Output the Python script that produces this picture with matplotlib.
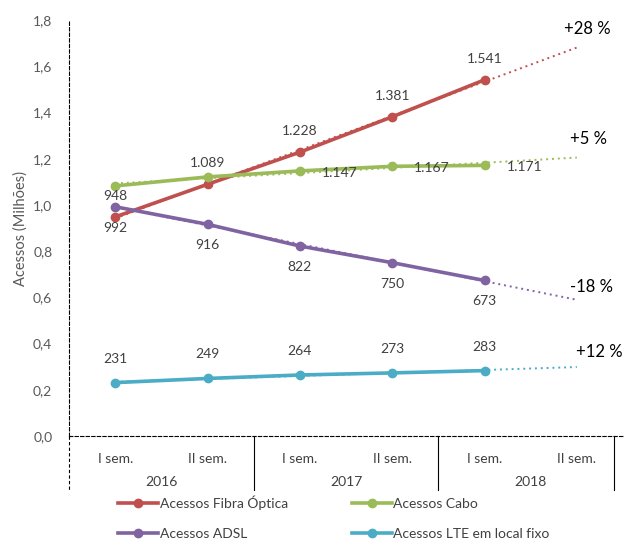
import matplotlib
matplotlib.use('Agg')
import matplotlib.pyplot as plt
import matplotlib.transforms as mtransforms
import numpy as np

plt.rcParams['font.family'] = ['Lato', 'DejaVu Sans']

# data (millions of accesses, per semester)
periods = ['I sem.', 'II sem.', 'I sem.', 'II sem.', 'I sem.', 'II sem.']
years = ['2016', '2017', '2018']
fibra = [0.948, 1.089, 1.228, 1.381, 1.541]
cabo = [1.082, 1.121, 1.147, 1.167, 1.171]
adsl = [0.992, 0.916, 0.822, 0.750, 0.673]
lte = [0.231, 0.249, 0.264, 0.273, 0.283]
fibra_lbl = ['948', '1.089', '1.228', '1.381', '1.541']
cabo_lbl = [None, None, '1.147', '1.167', '1.171']
adsl_lbl = ['992', '916', '822', '750', '673']
lte_lbl = ['231', '249', '264', '273', '283']
growth = ['+28 %', '+5 %', '-18 %', '+12 %']
names = ['Acessos Fibra Óptica', 'Acessos Cabo', 'Acessos ADSL', 'Acessos LTE em local fixo']

colors = ['#c0504d', '#9bbb59', '#8064a2', '#4bacc6']
label_col = '#404040'

fig = plt.figure(figsize=(6.24, 5.41), dpi=100)
ax = fig.add_axes([69 / 624, 1 - 436 / 541, 554 / 624, 416 / 541])
ax.set_xlim(-0.5, 5.5)
ax.set_ylim(0, 1.8)

series = [fibra, cabo, adsl, lte]
labels = [fibra_lbl, cabo_lbl, adsl_lbl, lte_lbl]
# label offsets in pixels (dx, dy)
offsets = [(0, 21), (40, -2), (0, -21), (0, 24)]
growth_off = [(10, 19), (12, 19), (15, 13), (22, 15)]

x = np.arange(len(fibra))
xt = np.arange(6)
handles = []
for vals, lbls, col, off, g, goff, name in zip(series, labels, colors, offsets,
                                              growth, growth_off, names):
    coef = np.polyfit(x, vals, 1)
    ax.plot(xt, np.polyval(coef, xt), ls=(0, (1, 2)), lw=1.4, color=col, zorder=2)
    h, = ax.plot(x, vals, '-o', color=col, lw=2.6, ms=6, zorder=3, label=name)
    handles.append(h)
    for xi, v, t in zip(x, vals, lbls):
        if t is None:
            continue
        ax.annotate(t, (xi, v), xytext=off, textcoords='offset pixels',
                    ha='center', va='center', fontsize=10, color=label_col, zorder=4)
    ax.annotate(g, (5, np.polyval(coef, 5)), xytext=goff, textcoords='offset pixels',
                ha='center', va='center', fontsize=12, color='black')

ax.set_yticks(np.arange(0, 1.81, 0.2))
ax.set_yticklabels([f'{v:.1f}'.replace('.', ',') for v in np.arange(0, 1.81, 0.2)],
                   fontsize=10, color='#595959')
ax.tick_params(axis='y', length=0, pad=12)
ax.set_ylabel('Acessos (Milhões)', fontsize=10.5, color='#595959', labelpad=4)

ax.set_xticks(xt)
ax.set_xticklabels(periods, fontsize=10, color=label_col)
ax.tick_params(axis='x', length=0, pad=12)

for side in ['top', 'right']:
    ax.spines[side].set_visible(False)
ax.spines['left'].set_linestyle((0, (3, 2)))
ax.spines['left'].set_linewidth(0.8)
ax.spines['bottom'].set_linestyle((0, (3, 2)))
ax.spines['bottom'].set_linewidth(0.8)

# year group labels and separators below the axis
trans = mtransforms.blended_transform_factory(ax.transData, ax.transAxes)
below = 54 / 416
for i, yr in enumerate(years):
    ax.text(2 * i + 0.5, -46 / 416, yr, transform=trans, ha='center', va='center',
            fontsize=10, color=label_col)
for xs in [-0.5, 1.5, 3.5, 5.4]:
    ls = (0, (3, 2)) if xs == -0.5 else '-'
    ax.plot([xs, xs], [0, -below], transform=trans, color='black', lw=0.8,
            ls=ls, clip_on=False)

# legend fills column-wise: order so rows read Fibra/Cabo, ADSL/LTE
order = [0, 2, 1, 3]
fig.legend(handles=[handles[i] for i in order], loc='upper left',
           bbox_to_anchor=(118 / 624, 1 - 495 / 541),
           ncol=2, frameon=False, fontsize=10, handlelength=2.9, handletextpad=0.1,
           columnspacing=4.6, labelspacing=1.35, borderpad=0, borderaxespad=0,
           labelcolor=label_col)

fig.savefig('out.png', dpi=100)
